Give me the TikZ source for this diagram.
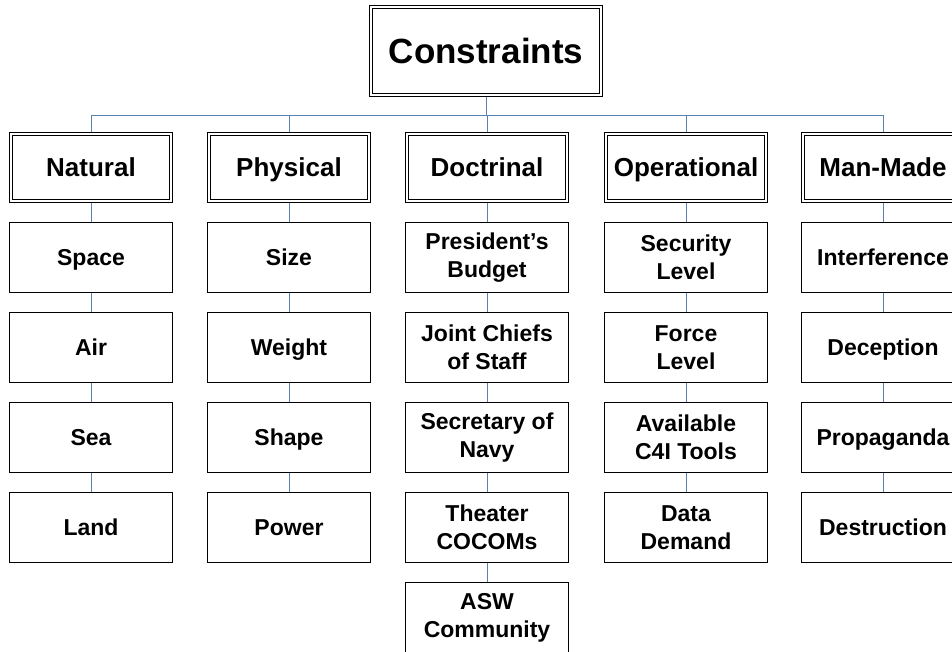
\documentclass[tikz,border=0pt]{standalone}
\usepackage{fontspec}
\setmainfont{Liberation Sans}
\usetikzlibrary{backgrounds}
\definecolor{linkblue}{HTML}{5A80B0}
\begin{document}
\begin{tikzpicture}[x=1pt,y=-1pt,
  conn/.style={draw=linkblue, line width=0.7pt},
  topbox/.style={draw, double, double distance=2.2pt, line width=0.9pt, minimum width=230pt, minimum height=88pt, inner sep=0pt, text height=25pt, text depth=0pt, font=\fontsize{35}{40}\selectfont\bfseries},
  catbox/.style={draw, double, double distance=2.2pt, line width=0.9pt, minimum width=160pt, minimum height=67pt, inner sep=0pt, text height=22pt, text depth=4pt, font=\fontsize{26}{30}\selectfont\bfseries},
  itembox/.style={draw, line width=0.8pt, minimum width=163pt, minimum height=70pt, inner sep=0pt, align=center, font=\fontsize{23}{28}\selectfont\bfseries},
  onebox/.style={itembox, text height=19pt, text depth=3pt}]
\useasboundingbox (0,0) rectangle (952,651);
\node[topbox] (top) at (486,51) {Constraints};
\node[catbox] (c1) at (91,167.5) {Natural};
\node[catbox] (c2) at (289,167.5) {Physical};
\node[catbox] (c3) at (487,167.5) {Doctrinal};
\node[catbox] (c4) at (686,167.5) {Operational};
\node[catbox] (c5) at (883,167.5) {Man-Made};
% Natural
\node[onebox] (a1) at (91,257.5) {Space};
\node[onebox] (a2) at (91,347.5) {Air};
\node[onebox] (a3) at (91,437.5) {Sea};
\node[onebox] (a4) at (91,527.5) {Land};
% Physical
\node[onebox] (b1) at (289,257.5) {Size};
\node[onebox] (b2) at (289,347.5) {Weight};
\node[onebox] (b3) at (289,437.5) {Shape};
\node[onebox] (b4) at (289,527.5) {Power};
% Doctrinal
\node[itembox] (d1) at (487,257.5) {President’s\\Budget};
\node[itembox] (d2) at (487,347.5) {Joint Chiefs\\of Staff};
\node[itembox] (d3) at (487,437.5) {Secretary of\\Navy};
\node[itembox] (d4) at (487,527.5) {Theater\\COCOMs};
\node[itembox] (d5) at (487,617.5) {ASW\\Community};
% Operational
\node[itembox] (o1) at (686,257.5) {Security\\Level};
\node[itembox] (o2) at (686,347.5) {Force\\Level};
\node[itembox] (o3) at (686,437.5) {Available\\C4I Tools};
\node[itembox] (o4) at (686,527.5) {Data\\Demand};
% Man-Made
\node[onebox] (m1) at (883,257.5) {Interference};
\node[onebox] (m2) at (883,347.5) {Deception};
\node[onebox] (m3) at (883,437.5) {Propaganda};
\node[onebox] (m4) at (883,527.5) {Destruction};
\begin{pgfonlayer}{background}
\foreach \c in {c1,c2,c3,c4,c5}
  \draw[conn] (top.south) -- ++(0,20) -| (\c.north);
\draw[conn] (c1.south) -- (a1.north) (a1.south) -- (a2.north) (a2.south) -- (a3.north) (a3.south) -- (a4.north);
\draw[conn] (c2.south) -- (b1.north) (b1.south) -- (b2.north) (b2.south) -- (b3.north) (b3.south) -- (b4.north);
\draw[conn] (c3.south) -- (d1.north) (d1.south) -- (d2.north) (d2.south) -- (d3.north) (d3.south) -- (d4.north) (d4.south) -- (d5.north);
\draw[conn] (c4.south) -- (o1.north) (o1.south) -- (o2.north) (o2.south) -- (o3.north) (o3.south) -- (o4.north);
\draw[conn] (c5.south) -- (m1.north) (m1.south) -- (m2.north) (m2.south) -- (m3.north) (m3.south) -- (m4.north);
\end{pgfonlayer}
\end{tikzpicture}
\end{document}
